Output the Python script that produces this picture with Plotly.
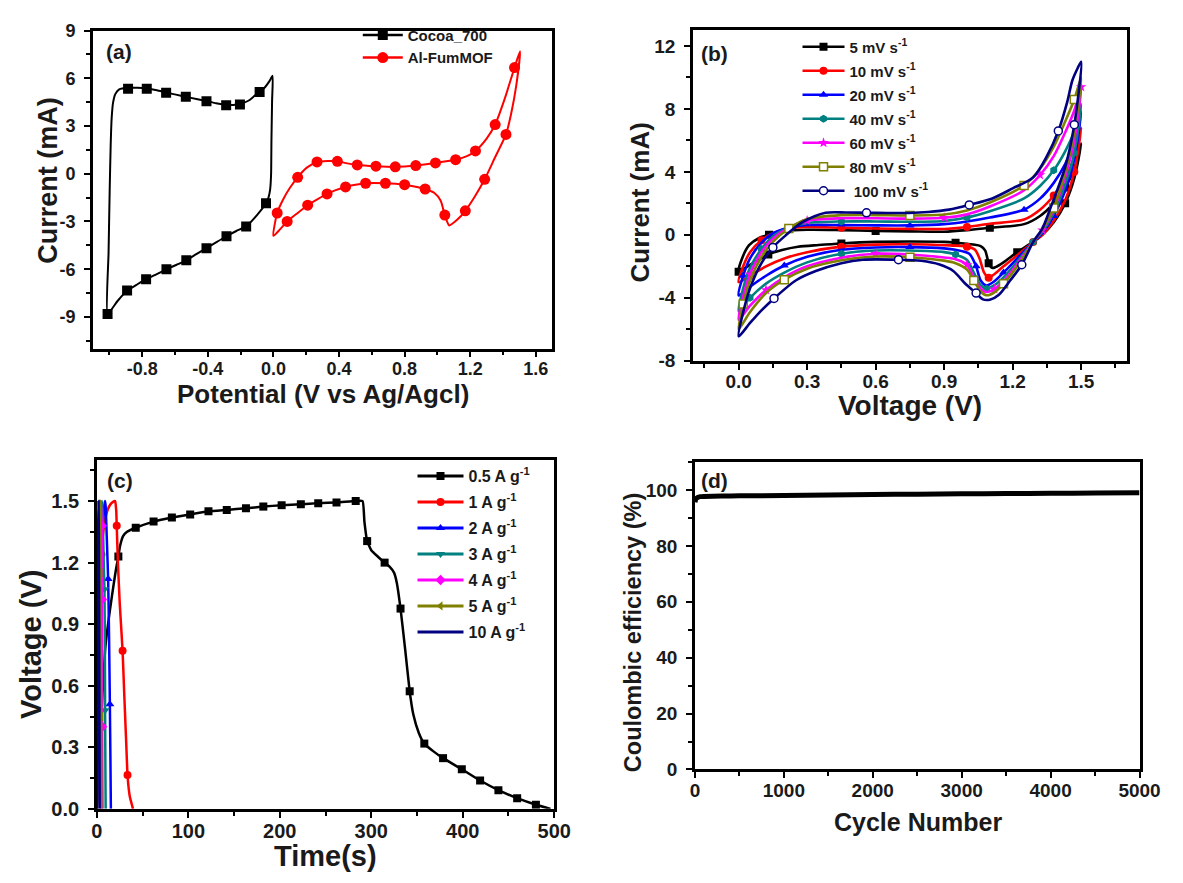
import plotly.graph_objects as go

W, H = 1183, 883
FONT = "Liberation Sans, Arial, sans-serif"
TXT = "#1a1a1a"

# ---------------- (a) CV: Cocoa_700 and Al-FumMOF ----------------
a_cocoa_x = [-1.011, -1.005, -0.998, -0.992, -0.986, -0.977, -0.964, -0.94, -0.886, -0.83, -0.772, -0.71,
             -0.654, -0.594, -0.534, -0.47, -0.408, -0.35, -0.288, -0.245, -0.204, -0.15, -0.12, -0.084,
             -0.05, -0.025, -0.005, -0.008, -0.012, -0.014, -0.02, -0.03, -0.045, -0.1, -0.166, -0.226,
             -0.286, -0.347, -0.408, -0.47, -0.531, -0.59, -0.652, -0.714, -0.776, -0.834, -0.892, -0.95, -1.011]
a_cocoa_y = [-8.81, -5.0, -1.0, 1.8, 3.5, 4.5, 5.0, 5.3, 5.4, 5.4, 5.36, 5.25,
             5.1, 4.97, 4.83, 4.7, 4.57, 4.43, 4.33, 4.32, 4.38, 4.6, 4.85, 5.13,
             5.45, 5.8, 6.15, 4.6, 2.0, 0.0, -1.0, -1.5, -1.86, -2.6, -3.31, -3.6,
             -3.93, -4.3, -4.68, -5.06, -5.44, -5.72, -6.01, -6.32, -6.63, -6.98, -7.34, -8.0, -8.81]
a_cocoa_mx = [-0.886, -0.772, -0.654, -0.534, -0.408, -0.288, -0.204, -0.084, -0.045,
              -0.166, -0.286, -0.408, -0.531, -0.652, -0.776, -0.892, -1.011]
a_cocoa_my = [5.34, 5.34, 5.09, 4.83, 4.56, 4.31, 4.35, 5.13, -1.86,
              -3.31, -3.93, -4.68, -5.44, -6.01, -6.63, -7.34, -8.81]

a_mof_x = [0.0, 0.023, 0.06, 0.1, 0.148, 0.2, 0.266, 0.33, 0.39, 0.45, 0.511, 0.625, 0.743, 0.868, 0.988,
           1.111, 1.18, 1.232, 1.30, 1.352, 1.41, 1.47, 1.504, 1.48, 1.45, 1.418, 1.35, 1.288, 1.23, 1.17,
           1.12, 1.072, 1.045, 1.02, 0.98, 0.925, 0.86, 0.80, 0.683, 0.562, 0.50, 0.44, 0.38, 0.327, 0.27,
           0.209, 0.15, 0.084, 0.04, 0.0]
a_mof_y = [-3.9, -2.47, -1.6, -0.9, -0.23, 0.35, 0.74, 0.8, 0.78, 0.65, 0.55, 0.47, 0.43, 0.51, 0.68,
           0.88, 1.1, 1.43, 2.2, 3.09, 4.7, 6.67, 7.69, 5.5, 3.8, 2.47, 1.0, -0.35, -1.4, -2.33,
           -2.9, -3.25, -2.6, -1.7, -1.2, -0.96, -0.8, -0.69, -0.6, -0.6, -0.7, -0.83, -1.03, -1.27, -1.6,
           -1.98, -2.45, -3.0, -3.5, -3.9]
a_mof_mx = [0.023, 0.148, 0.266, 0.39, 0.511, 0.625, 0.743, 0.868, 0.988, 1.111, 1.232, 1.352, 1.47,
            1.418, 1.288, 1.17, 1.045, 0.925, 0.80, 0.683, 0.562, 0.44, 0.327, 0.209, 0.084]
a_mof_my = [-2.47, -0.23, 0.74, 0.78, 0.55, 0.47, 0.43, 0.51, 0.68, 0.88, 1.43, 3.09, 6.67,
            2.47, -0.35, -2.33, -2.6, -0.96, -0.69, -0.6, -0.6, -0.83, -1.27, -1.98, -3.0]

a_xticks = [-0.8, -0.4, 0.0, 0.4, 0.8, 1.2, 1.6]
a_xlabels = ["-0.8", "-0.4", "0.0", "0.4", "0.8", "1.2", "1.6"]
a_yticks = [-9, -6, -3, 0, 3, 6, 9]
a_ylabels = ["-9", "-6", "-3", "0", "3", "6", "9"]

# ---------------- (b) CV at different scan rates ----------------
b_names = ["5 mV s<sup>-1</sup>", "10 mV s<sup>-1</sup>", "20 mV s<sup>-1</sup>", "40 mV s<sup>-1</sup>",
           "60 mV s<sup>-1</sup>", "80 mV s<sup>-1</sup>", " 100 mV s<sup>-1</sup>"]

b5_x = [0.0, 0.015, 0.046, 0.09, 0.133, 0.2, 0.3, 0.45, 0.6, 0.75, 0.9, 1.0, 1.1, 1.25, 1.32, 1.38, 1.43, 1.47, 1.5,
        1.47, 1.43, 1.38, 1.33, 1.29, 1.22, 1.16, 1.125, 1.11, 1.095, 1.08, 1.06, 1.027, 0.95, 0.9, 0.75, 0.6,
        0.45, 0.35, 0.26, 0.19, 0.13, 0.089, 0.04, 0.0]
b5_y = [-2.34, -1.5, -0.66, -0.2, 0.0, 0.22, 0.32, 0.3, 0.25, 0.22, 0.2, 0.3, 0.45, 0.68, 1.2, 2.0, 3.0, 4.2, 5.8,
        3.6, 2.0, 0.8, 0.0, -0.45, -1.1, -1.75, -2.05, -2.1, -1.8, -1.0, -0.72, -0.62, -0.5, -0.45, -0.42, -0.45,
        -0.55, -0.65, -0.76, -0.97, -1.25, -1.58, -2.0, -2.34]

b10_x = [0.0, 0.02, 0.05, 0.1, 0.15, 0.22, 0.3, 0.45, 0.6, 0.75, 0.9, 1.0, 1.1, 1.25, 1.32, 1.38, 1.43, 1.47, 1.5,
         1.47, 1.43, 1.38, 1.33, 1.29, 1.22, 1.16, 1.12, 1.095, 1.075, 1.055, 1.035, 1.0, 0.9, 0.75, 0.6, 0.45,
         0.3, 0.2, 0.12, 0.05, 0.0]
b10_y = [-3.0, -2.0, -1.1, -0.35, 0.1, 0.4, 0.5, 0.45, 0.4, 0.38, 0.37, 0.5, 0.7, 0.98, 1.6, 2.5, 3.6, 4.9, 6.8,
         4.0, 2.2, 0.9, 0.0, -0.45, -1.3, -2.0, -2.5, -2.72, -2.4, -1.5, -0.95, -0.75, -0.66, -0.6, -0.62, -0.75,
         -1.1, -1.5, -2.0, -2.6, -3.0]

b20_x = [0.0, 0.02, 0.05, 0.1, 0.15, 0.22, 0.3, 0.45, 0.6, 0.75, 0.9, 1.0, 1.1, 1.25, 1.32, 1.38, 1.43, 1.47, 1.5,
         1.47, 1.43, 1.38, 1.33, 1.29, 1.22, 1.16, 1.12, 1.085, 1.06, 1.04, 1.01, 0.95, 0.9, 0.75, 0.6, 0.45,
         0.3, 0.2, 0.12, 0.05, 0.0]
b20_y = [-3.85, -2.6, -1.5, -0.5, 0.1, 0.45, 0.62, 0.62, 0.6, 0.6, 0.68, 0.85, 1.1, 1.6, 2.3, 3.3, 4.5, 5.9, 7.8,
         4.8, 2.8, 1.2, 0.1, -0.45, -1.5, -2.4, -2.95, -3.22, -2.9, -2.0, -1.2, -0.95, -0.86, -0.78, -0.8, -0.95,
         -1.4, -1.95, -2.6, -3.3, -3.85]

b40_x = [0.0, 0.02, 0.05, 0.1, 0.15, 0.22, 0.3, 0.45, 0.6, 0.75, 0.9, 1.0, 1.1, 1.25, 1.32, 1.38, 1.43, 1.47, 1.5,
         1.47, 1.43, 1.38, 1.33, 1.29, 1.22, 1.16, 1.12, 1.085, 1.06, 1.03, 1.0, 0.95, 0.9, 0.75, 0.6, 0.45,
         0.3, 0.2, 0.12, 0.05, 0.0]
b40_y = [-4.85, -3.4, -2.1, -0.9, -0.1, 0.45, 0.75, 0.85, 0.85, 0.83, 0.88, 1.1, 1.5, 2.31, 3.1, 4.1, 5.3, 6.6, 8.3,
         5.2, 3.2, 1.4, 0.2, -0.45, -1.7, -2.7, -3.2, -3.43, -3.2, -2.4, -1.6, -1.25, -1.1, -1.0, -1.0, -1.2,
         -1.75, -2.4, -3.1, -4.0, -4.85]

b60_x = [0.0, 0.02, 0.05, 0.1, 0.15, 0.22, 0.3, 0.45, 0.6, 0.75, 0.9, 1.0, 1.1, 1.25, 1.32, 1.38, 1.43, 1.47, 1.5,
         1.47, 1.43, 1.38, 1.33, 1.29, 1.22, 1.16, 1.12, 1.085, 1.06, 1.03, 1.0, 0.95, 0.9, 0.75, 0.6, 0.45,
         0.3, 0.2, 0.12, 0.05, 0.0]
b60_y = [-5.4, -3.9, -2.5, -1.1, -0.25, 0.45, 0.9, 1.05, 1.05, 1.03, 1.08, 1.3, 1.8, 2.83, 3.8, 5.0, 6.5, 7.9, 9.4,
         6.0, 3.7, 1.6, 0.3, -0.45, -1.85, -2.95, -3.45, -3.63, -3.4, -2.7, -1.9, -1.55, -1.44, -1.25, -1.2, -1.45,
         -2.0, -2.7, -3.5, -4.5, -5.4]

b80_x = [0.0, 0.02, 0.05, 0.1, 0.15, 0.22, 0.3, 0.45, 0.6, 0.75, 0.9, 1.0, 1.1, 1.25, 1.32, 1.38, 1.43, 1.47, 1.5,
         1.47, 1.43, 1.38, 1.33, 1.29, 1.22, 1.16, 1.12, 1.085, 1.06, 1.03, 1.0, 0.95, 0.9, 0.75, 0.6, 0.45,
         0.3, 0.2, 0.12, 0.05, 0.0]
b80_y = [-6.0, -4.4, -2.9, -1.4, -0.45, 0.4, 1.0, 1.25, 1.25, 1.23, 1.29, 1.55, 2.05, 3.14, 4.2, 5.6, 7.2, 8.6, 10.0,
         6.5, 4.0, 1.7, 0.35, -0.45, -2.0, -3.1, -3.65, -3.84, -3.6, -2.9, -2.2, -1.8, -1.64, -1.42, -1.38, -1.62,
         -2.15, -2.85, -3.7, -4.9, -6.0]

b100_x = [0.0, 0.022, 0.05, 0.1, 0.15, 0.205, 0.28, 0.381, 0.47, 0.56, 0.65, 0.746, 0.83, 0.922, 1.01, 1.111, 1.2,
          1.29, 1.35, 1.40, 1.44, 1.461, 1.485, 1.5,
          1.47, 1.43, 1.367, 1.33, 1.29, 1.24, 1.188, 1.14, 1.1, 1.07, 1.04, 0.994, 0.94, 0.88, 0.8, 0.70, 0.544,
          0.45, 0.338, 0.25, 0.155, 0.1, 0.05, 0.0]
b100_y = [-6.45, -4.8, -3.4, -1.8, -0.8, -0.05, 0.8, 1.4, 1.42, 1.40, 1.39, 1.39, 1.45, 1.6, 1.9, 2.31, 2.95,
          3.65, 5.0, 6.6, 8.5, 9.79, 10.6, 11.0,
          7.0, 4.3, 1.76, 0.4, -0.45, -1.9, -2.92, -3.8, -4.12, -4.1, -3.7, -3.12, -2.3, -1.89, -1.65, -1.58, -1.58,
          -1.8, -2.3, -2.9, -4.04, -4.8, -5.6, -6.45]

b_xticks = [0.0, 0.3, 0.6, 0.9, 1.2, 1.5]
b_xlabels = ["0.0", "0.3", "0.6", "0.9", "1.2", "1.5"]
b_yticks = [-8, -4, 0, 4, 8, 12]
b_ylabels = ["-8", "-4", "0", "4", "8", "12"]

# ---------------- (c) GCD ----------------
c_names = ["0.5 A g<sup>-1</sup>", "1 A g<sup>-1</sup>", "2 A g<sup>-1</sup>", "3 A g<sup>-1</sup>",
           "4 A g<sup>-1</sup>", "5 A g<sup>-1</sup>", "10 A g<sup>-1</sup>"]

c05_t = [0, 3, 6, 9.3, 14, 18.2, 21, 23.5, 25.3, 28.8, 33, 42.5, 62, 82, 102, 122, 142, 163, 182, 202, 223, 242,
         262, 283, 290.5, 292.5, 295.5, 300, 307, 314.6, 320, 325, 328, 332, 337, 342, 346, 352, 358, 368, 378.5,
         399, 419, 439, 459.5, 480, 496]
c05_v = [0, 0.3, 0.55, 0.79, 0.96, 1.09, 1.17, 1.23, 1.28, 1.33, 1.35, 1.37, 1.40, 1.42, 1.435, 1.45, 1.457,
         1.465, 1.473, 1.48, 1.485, 1.49, 1.493, 1.50, 1.50, 1.40, 1.305, 1.26, 1.23, 1.20, 1.18, 1.15, 1.10,
         0.976, 0.78, 0.573, 0.46, 0.37, 0.318, 0.28, 0.247, 0.193, 0.138, 0.091, 0.052, 0.02, 0]
c05_mt = [23.5, 42.5, 62, 82, 102, 122, 142, 163, 182, 202, 223, 242, 262, 283, 295.5, 314.6, 332, 342, 358,
          378.5, 399, 419, 439, 459.5, 480]
c05_mv = [1.23, 1.37, 1.40, 1.42, 1.435, 1.45, 1.457, 1.465, 1.473, 1.48, 1.485, 1.49, 1.493, 1.50, 1.305,
          1.20, 0.976, 0.573, 0.318, 0.247, 0.193, 0.138, 0.091, 0.052, 0.02]

c1_t = [0, 1, 2, 3, 4, 5, 7, 9.5, 12, 15, 18, 20, 21.2, 21.7, 23, 25, 28.1, 30, 32, 33.5, 36, 39.5]
c1_v = [0, 0.35, 0.7, 0.95, 1.12, 1.24, 1.35, 1.42, 1.46, 1.485, 1.497, 1.5, 1.45, 1.38, 1.2, 1.0, 0.77, 0.55,
        0.33, 0.165, 0.06, 0]
c1_mt = [5, 21.7, 28.1, 33.5]
c1_mv = [1.24, 1.38, 0.77, 0.165]

c2_t = [0, 1.5, 3, 4.5, 6, 7.5, 8.8, 9.5, 11, 12.3, 13.3, 14.2, 14.8, 15.3]
c2_v = [0, 0.4, 0.8, 1.1, 1.32, 1.45, 1.5, 1.48, 1.3, 1.12, 0.85, 0.51, 0.25, 0]
c2_mt = [12.3, 14.2]
c2_mv = [1.12, 0.51]

c3_t = [0, 1, 2, 3, 4, 5, 5.8, 6.5, 7.5, 8.3, 8.8, 9.0, 9.3, 9.6]
c3_v = [0, 0.35, 0.7, 1.05, 1.3, 1.45, 1.5, 1.4, 1.2, 1.07, 0.75, 0.48, 0.2, 0]
c3_mt = [8.3, 9.0]
c3_mv = [1.07, 0.48]

c4_t = [0, 0.8, 1.6, 2.4, 3.2, 4.0, 4.5, 5.0, 5.3, 5.5, 5.6, 5.7, 5.8, 6.0, 6.2]
c4_v = [0, 0.4, 0.8, 1.1, 1.35, 1.48, 1.5, 1.42, 1.38, 1.2, 1.02, 0.7, 0.40, 0.15, 0]
c4_mt = [5.3, 5.6, 5.8]
c4_mv = [1.38, 1.02, 0.40]

c5_t = [0, 0.7, 1.4, 2.1, 2.8, 3.3, 3.8, 4.2, 4.5, 4.7, 4.9]
c5_v = [0, 0.45, 0.9, 1.25, 1.45, 1.5, 1.3, 1.0, 0.6, 0.3, 0]
c5_mt = [4.0, 4.6]
c5_mv = [1.15, 0.45]

c10_t = [0, 0.5, 1.0, 1.5, 1.8, 2.2, 2.6, 2.9, 3.1]
c10_v = [0, 0.5, 1.0, 1.4, 1.5, 1.3, 0.8, 0.4, 0]

c_xticks = [0, 100, 200, 300, 400, 500]
c_xlabels = ["0", "100", "200", "300", "400", "500"]
c_yticks = [0.0, 0.3, 0.6, 0.9, 1.2, 1.5]
c_ylabels = ["0.0", "0.3", "0.6", "0.9", "1.2", "1.5"]

# ---------------- (d) Coulombic efficiency ----------------
d_cycle = [1, 10, 30, 60, 100, 300, 500, 1000, 1500, 2000, 2500, 3000, 3500, 4000, 4500, 5000]
d_ce = [95.6, 96.8, 97.3, 97.6, 97.7, 97.8, 97.9, 98.0, 98.2, 98.4, 98.5, 98.6, 98.7, 98.8, 98.9, 99.0]

d_xticks = [0, 1000, 2000, 3000, 4000, 5000]
d_xlabels = ["0", "1000", "2000", "3000", "4000", "5000"]
d_yticks = [0, 20, 40, 60, 80, 100]
d_ylabels = ["0", "20", "40", "60", "80", "100"]

# ---------------- styles ----------------
b_colors = ["#000000", "#ff0000", "#0000ff", "#008080", "#ff00ff", "#808000", "#000080"]
b_symbols = ["square", "circle", "triangle-up", "hexagon", "star", "square", "circle"]
b_fill = ["#000000", "#ff0000", "#0000ff", "#008080", "#ff00ff", "#ffffff", "#ffffff"]
c_symbols = ["square", "circle", "triangle-up", "triangle-down", "diamond", "triangle-left", None]


def fx(p):
    return p / W


def fy(p):
    return 1 - p / H


fig = go.Figure()


def add_series(xs, ys, mx, my, name, color, symbol, size, xa, ya, legend, lw, smooth, group):
    fig.add_trace(go.Scatter(x=xs, y=ys, mode="lines", xaxis=xa, yaxis=ya, showlegend=False,
                             hoverinfo="skip", legendgroup=group,
                             line=dict(color=color, width=lw, shape="spline", smoothing=smooth)))
    if mx:
        fig.add_trace(go.Scatter(x=mx, y=my, mode="markers", xaxis=xa, yaxis=ya, showlegend=False,
                                 hoverinfo="skip", legendgroup=group,
                                 marker=dict(symbol=symbol, size=size, color=color, line=dict(width=0))))
    fig.add_trace(go.Scatter(x=[None], y=[None], mode="lines+markers" if symbol else "lines",
                             name=name, xaxis=xa, yaxis=ya, legend=legend, legendgroup=group,
                             line=dict(color=color, width=lw + 0.5),
                             marker=dict(symbol=symbol or "circle", size=size, color=color, line=dict(width=0))))


# (a)
add_series(a_cocoa_x, a_cocoa_y, a_cocoa_mx, a_cocoa_my, "Cocoa_700", "#000000", "square", 10,
           "x", "y", "legend", 2, 0.5, "a0")
add_series(a_mof_x, a_mof_y, a_mof_mx, a_mof_my, "Al-FumMOF", "#ff0000", "circle", 11,
           "x", "y", "legend", 2, 0.6, "a1")

# (b)
b_xs = [b5_x, b10_x, b20_x, b40_x, b60_x, b80_x, b100_x]
b_ys = [b5_y, b10_y, b20_y, b40_y, b60_y, b80_y, b100_y]
for i in range(7):
    fig.add_trace(go.Scatter(
        x=b_xs[i], y=b_ys[i], mode="lines+markers", name=b_names[i], xaxis="x2", yaxis="y2",
        legend="legend2", legendgroup="b%d" % i, hoverinfo="skip",
        line=dict(color=b_colors[i], width=2.6, shape="spline", smoothing=0.8),
        marker=dict(symbol=b_symbols[i], size=8, color=b_fill[i], maxdisplayed=11,
                    line=dict(color=b_colors[i], width=1.5 if b_fill[i] == "#ffffff" else 0))))

# (c)
c_ts = [c05_t, c1_t, c2_t, c3_t, c4_t, c5_t, c10_t]
c_vs = [c05_v, c1_v, c2_v, c3_v, c4_v, c5_v, c10_v]
c_mts = [c05_mt, c1_mt, c2_mt, c3_mt, c4_mt, c5_mt, None]
c_mvs = [c05_mv, c1_mv, c2_mv, c3_mv, c4_mv, c5_mv, None]
for i in range(7):
    add_series(c_ts[i], c_vs[i], c_mts[i], c_mvs[i], c_names[i], b_colors[i], c_symbols[i], 8,
               "x3", "y3", "legend3", 2.5, 0.4, "c%d" % i)

# (d)
fig.add_trace(go.Scatter(x=d_cycle, y=d_ce, mode="lines", xaxis="x4", yaxis="y4", showlegend=False,
                         hoverinfo="skip", line=dict(color="#000000", width=5, shape="spline", smoothing=0.5)))


def axis(domain, anchor, rng, tv, tt, minor_dtick, fsize, is_x):
    return dict(domain=domain, anchor=anchor, range=rng, tickmode="array", tickvals=tv, ticktext=tt,
                ticks="outside", ticklen=6, tickwidth=2, tickcolor="black", showline=True, linewidth=2.5,
                linecolor="black", mirror=True, showgrid=False, zeroline=False,
                ticklabelstandoff=-4 if is_x else 5,
                tickfont=dict(family=FONT, size=fsize, color=TXT, weight="bold"),
                minor=dict(ticks="outside", ticklen=4, tickwidth=2, tickcolor="black", dtick=minor_dtick,
                           tick0=0, showgrid=False))


dom_a_x = [fx(89), fx(559)]
dom_a_y = [fy(347), fy(21)]
dom_b_x = [fx(703), fx(1147)]
dom_b_y = [fy(359.3), fy(20.7)]
dom_c_x = [fx(93), fx(561)]
dom_c_y = [fy(818.3), fy(461)]
dom_d_x = [fx(705), fx(1160)]
dom_d_y = [fy(778), fy(463)]

legend_common = dict(xanchor="left", yanchor="top", bgcolor="rgba(0,0,0,0)", borderwidth=0)

fig.update_layout(
    width=W, height=H, margin=dict(l=0, r=0, t=0, b=0),
    paper_bgcolor="white", plot_bgcolor="white",
    font=dict(family=FONT, color=TXT),
    xaxis=axis(dom_a_x, "y", [-1.1, 1.7], a_xticks, a_xlabels, 0.2, 18, True),
    yaxis=axis(dom_a_y, "x", [-11, 9], a_yticks, a_ylabels, 1.5, 18, False),
    xaxis2=axis(dom_b_x, "y2", [-0.2, 1.7], b_xticks, b_xlabels, 0.15, 19, True),
    yaxis2=axis(dom_b_y, "x2", [-8, 13], b_yticks, b_ylabels, 2, 19, False),
    xaxis3=axis(dom_c_x, "y3", [0, 500], c_xticks, c_xlabels, 50, 20, True),
    yaxis3=axis(dom_c_y, "x3", [0, 1.7], c_yticks, c_ylabels, 0.15, 20, False),
    xaxis4=axis(dom_d_x, "y4", [0, 5000], d_xticks, d_xlabels, 500, 19, True),
    yaxis4=axis(dom_d_y, "x4", [0, 110], d_yticks, d_ylabels, 10, 19, False),
    legend=dict(x=fx(360), y=fy(9), itemwidth=40, tracegroupgap=0,
                font=dict(family=FONT, size=15, color=TXT, weight="bold"), **legend_common),
    legend2=dict(x=fx(810), y=fy(21), itemwidth=42, tracegroupgap=1.5,
                 font=dict(family=FONT, size=15, color=TXT, weight="bold"), **legend_common),
    legend3=dict(x=fx(416), y=fy(460), itemwidth=46, tracegroupgap=2.2,
                 font=dict(family=FONT, size=16, color=TXT, weight="bold"), **legend_common),
    showlegend=True,
)

annots = [
    ("Potential (V vs Ag/Agcl)", 324, 393, 0, 26),
    ("Current (mA)", 43, 175, -90, 27),
    ("Voltage (V)", 925, 405, 0, 28),
    ("Current (mA)", 649, 197, -90, 26),
    ("Time(s)", 327, 867, 0, 29),
    ("Voltage (V)", 25, 650, -90, 29),
    ("Cycle Number", 933, 832, 0, 25),
    ("Coulombic efficiency (%)", 641, 638, -90, 23.5),
    ("(a)", 116, 43, 0, 21),
    ("(b)", 725, 45, 0, 21),
    ("(c)", 117, 482, 0, 21),
    ("(d)", 725, 482, 0, 21),
]
for text, x, y, ang, size in annots:
    fig.add_annotation(text=text, x=fx(x), y=fy(y), xref="paper", yref="paper", showarrow=False,
                       xanchor="center", yanchor="middle", textangle=ang,
                       font=dict(family=FONT, size=size, color=TXT, weight="bold"))

fig.write_html("out.html")
